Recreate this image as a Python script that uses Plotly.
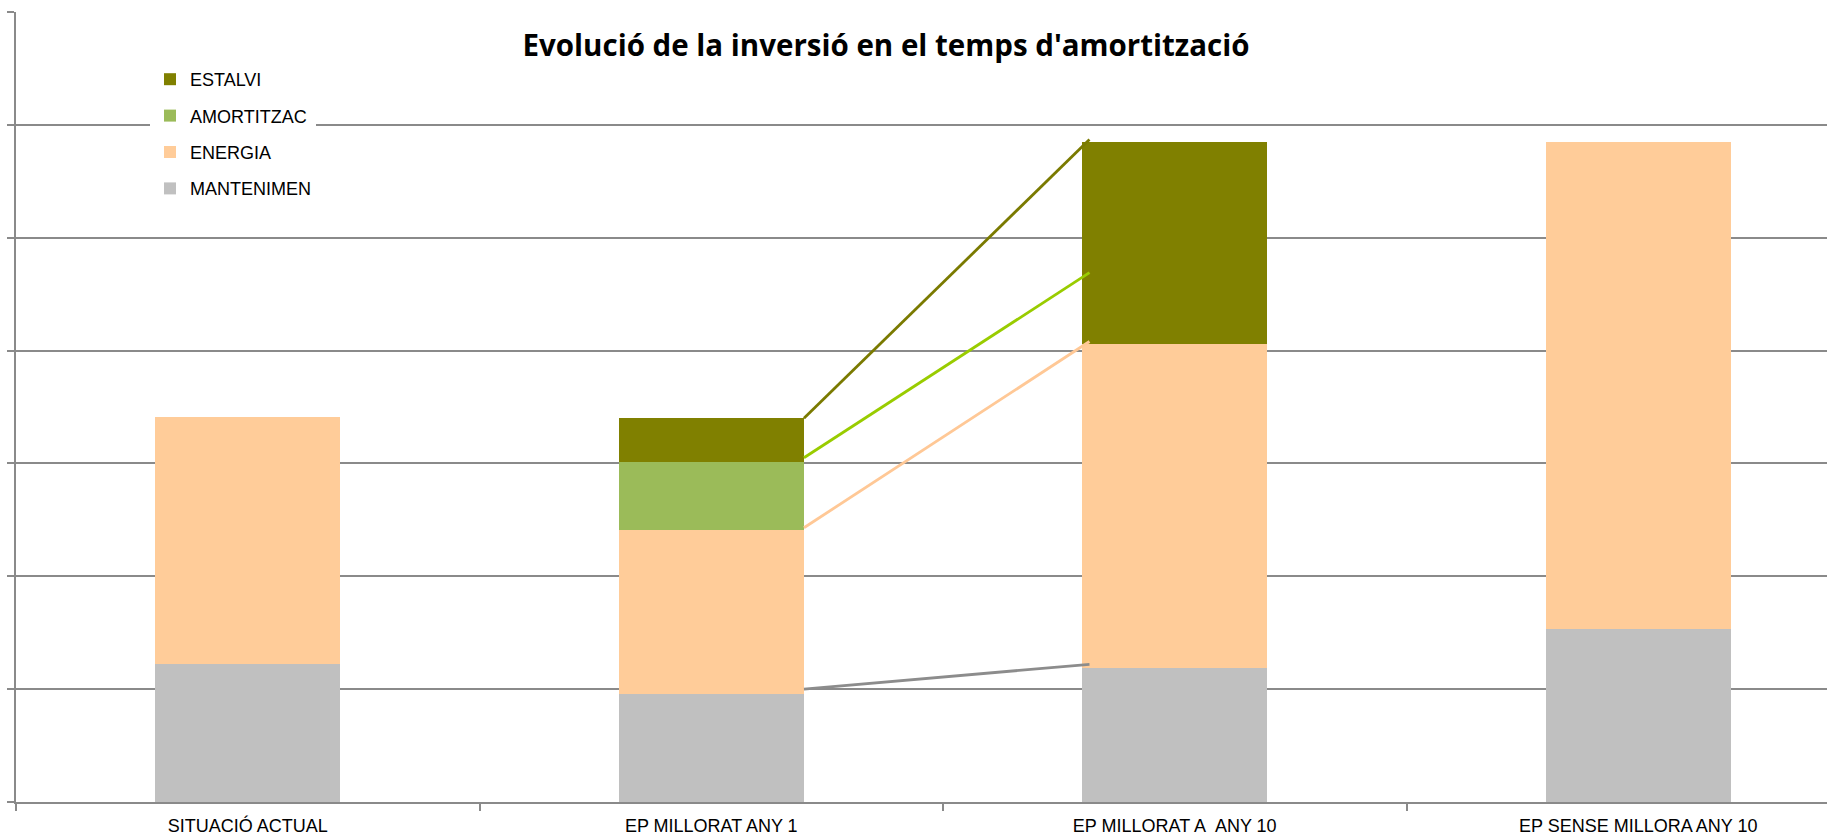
import plotly.graph_objects as go

# ---- data (units = one gridline step) ----
categories = ["SITUACIÓ ACTUAL", "EP MILLORAT ANY 1", "EP MILLORAT A\u00a0 ANY 10", "EP SENSE MILLORA ANY 10"]
mantenimen = [1.22, 0.96, 1.19, 1.53]
energia = [2.19, 1.45, 2.87, 4.32]
amortitzac = [0.0, 0.60, 0.0, 0.0]
estalvi = [0.0, 0.39, 1.79, 0.0]

series_names = ["MANTENIMEN", "ENERGIA", "AMORTITZAC", "ESTALVI"]
series_values = [mantenimen, energia, amortitzac, estalvi]
series_colors = ["#C0C0C0", "#FFCC99", "#9BBB59", "#808000"]

# hand-drawn connector lines between bar 2 and bar 3 (start / end levels)
connector_start = [1.00, 2.43, 3.05, 3.40]
connector_end = [1.22, 4.08, 4.69, 5.87]
connector_colors = ["#8C8C8C", "#FFC896", "#99CC00", "#7A7A00"]

title_text = "Evolució de la inversió en el temps d'amortització"

BAR_W = 0.4
W, H = 1827, 838
ML, MR, MT, MB = 16, 0, 12, 36
CAT_PX = 463.5
PW, PH = W - ML - MR, H - MT - MB

fig = go.Figure()
n = len(series_names)
for i, (name, vals, col) in enumerate(zip(series_names, series_values, series_colors)):
    fig.add_trace(go.Bar(
        x=categories, y=vals, name=name, width=BAR_W,
        marker=dict(color=col, line=dict(width=0)),
        legendgroup=name, legendrank=n - i,
    ))

x0 = 1 + BAR_W / 2
x1 = 2 - BAR_W / 2 + 0.016
for s, e, c in zip(connector_start, connector_end, connector_colors):
    fig.add_trace(go.Scatter(
        x=[x0, x1], y=[s, e], mode="lines",
        line=dict(color=c, width=2.8), showlegend=False, hoverinfo="skip",
        xaxis="x2",
    ))

xmax = -0.5 + PW / CAT_PX
grid_col = "#8A8A8A"
fig.update_layout(
    width=W, height=H,
    margin=dict(l=ML, r=MR, t=MT, b=MB, pad=0, autoexpand=False),
    paper_bgcolor="white", plot_bgcolor="white",
    barmode="stack",
    title=dict(text=title_text, x=886 / W, xref="container", xanchor="center",
               y=1 - 46 / H, yref="container", yanchor="middle",
               font=dict(family="Open Sans", size=29.5, color="black", weight="bold")),
    legend=dict(traceorder="grouped", tracegroupgap=10,
                xref="paper", yref="paper",
                x=(150 - ML) / PW, xanchor="left", y=1 - (61 - MT) / PH, yanchor="top",
                bgcolor="white", borderwidth=0,
                font=dict(family="Liberation Sans", size=18, color="black")),
    xaxis=dict(range=[-0.5, xmax], showline=True, linecolor=grid_col, linewidth=1.5,
               ticks="outside", tickson="boundaries", ticklen=7, tickcolor=grid_col,
               tickwidth=1.5, showgrid=False, ticklabelstandoff=7,
               tickfont=dict(family="Liberation Sans", size=18, color="black")),
    xaxis2=dict(range=[-0.5, xmax], overlaying="x", visible=False),
    yaxis=dict(range=[0, 7], dtick=1, showticklabels=False, showline=True,
               linecolor=grid_col, linewidth=1.5, ticks="outside", ticklen=7,
               tickcolor=grid_col, tickwidth=1.5, showgrid=True, gridcolor=grid_col,
               gridwidth=1.5, zeroline=False),
)

fig.write_html("out.html", config={"displayModeBar": False},
               post_script="document.body.style.margin='0';document.body.style.overflow='hidden';")
